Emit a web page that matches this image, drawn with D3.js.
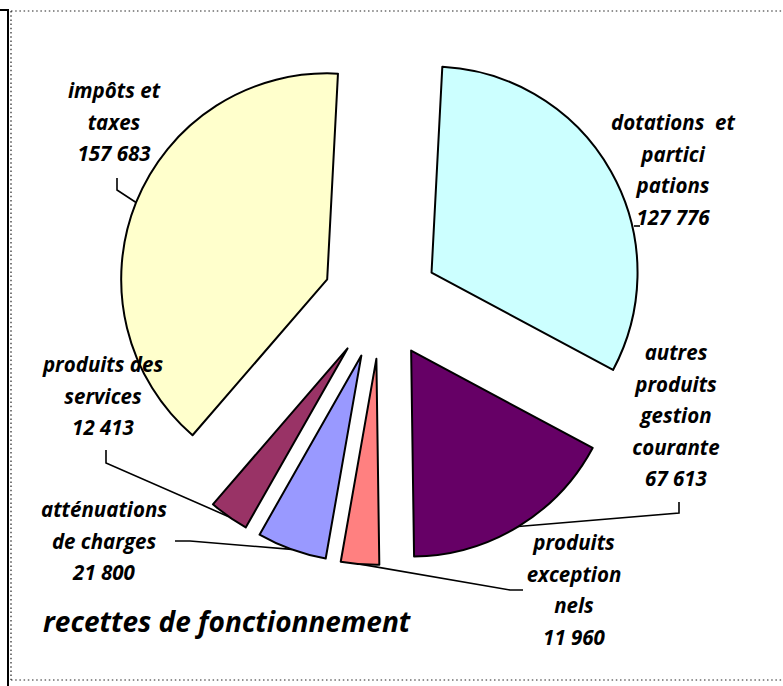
<!DOCTYPE html>
<html>
<head>
<meta charset="utf-8">
<script src="https://cdn.jsdelivr.net/npm/d3@7"></script>
<style>
  body { margin: 0; background: #fff; }
  .lbl, .title { font-family: "Open Sans", sans-serif; font-weight: 700; font-style: italic; fill: #000; }
</style>
</head>
<body>
<div id="chart"></div>
<script>
// data
const categories = ['dotations  et partici pations', 'autres produits gestion courante', 'produits exception nels',
  'atténuations de charges', 'produits des services', 'impôts et taxes'];
const values = [127776, 67613, 11960, 21800, 12413, 157683];
const colors = ['#CCFFFF', '#660066', '#FF8080', '#9999FF', '#993366', '#FFFFCC'];
// how each label is broken into lines
const labelLines = [
  ['dotations  et', 'partici', 'pations'],
  ['autres', 'produits', 'gestion', 'courante'],
  ['produits', 'exception', 'nels'],
  ['atténuations', 'de charges'],
  ['produits des', 'services'],
  ['impôts et', 'taxes']
];

const width = 783, height = 686;
const cx = 381, cy = 301, radius = 206, explode = 58;
const startDeg = 3;
const lineStep = 31.5;

// label layout: center x, first baseline, leader knee + end
const labelPos = [
  {x: 673, y: 130, leader: [[640, 226], [634, 226]], noAnchor: true},
  {x: 676, y: 360, leader: [[679, 513], [679, 502]]},
  {x: 574, y: 550, leader: [[510, 590], [523, 590]]},
  {x: 104, y: 517, leader: [[190, 541], [175, 541]]},
  {x: 103, y: 372, leader: [[106, 463], [106, 450]]},
  {x: 114, y: 98,  leader: [[117, 190], [117, 178]]}
];

const fmt = v => d3.format(',')(v).replace(/,/g, ' ');

const svg = d3.select('#chart').append('svg')
  .attr('width', width)
  .attr('height', height);

// frame
svg.append('line').attr('x1', 8).attr('x2', 8).attr('y1', 10).attr('y2', height)
  .attr('stroke', '#000').attr('stroke-width', 2);
svg.append('line').attr('x1', 0).attr('x2', 9).attr('y1', 10).attr('y2', 10)
  .attr('stroke', '#000').attr('stroke-width', 2);
const dotted = [[11, 11, width, 11], [11, 11, 11, 680], [11, 680, width, 680]];
svg.selectAll('.frame-dot').data(dotted).enter().append('line')
  .attr('class', 'frame-dot')
  .attr('x1', d => d[0]).attr('y1', d => d[1]).attr('x2', d => d[2]).attr('y2', d => d[3])
  .attr('stroke', '#222').attr('stroke-width', 1.2).attr('stroke-dasharray', '1.5,2.7');

const pie = d3.pie().sort(null)
  .startAngle(startDeg * Math.PI / 180)
  .endAngle((startDeg + 360) * Math.PI / 180);
const arcs = pie(values);

const arc = d3.arc().innerRadius(0).outerRadius(radius);

const offset = d => {
  const a = (d.startAngle + d.endAngle) / 2;
  return [cx + explode * Math.sin(a), cy - explode * Math.cos(a)];
};

// leader lines (under slices)
const g = svg.append('g');
g.selectAll('.leader').data(arcs).enter().append('polyline')
  .attr('class', 'leader')
  .attr('fill', 'none')
  .attr('stroke', '#000')
  .attr('stroke-width', 1.6)
  .attr('points', (d, i) => {
    const p = labelPos[i];
    const pts = p.leader.slice();
    if (!p.noAnchor) {
      const [ox, oy] = offset(d);
      const a = (d.startAngle + d.endAngle) / 2;
      pts.unshift([ox + radius * Math.sin(a), oy - radius * Math.cos(a)]);
    }
    return pts.map(q => q.join(',')).join(' ');
  });

g.selectAll('.slice').data(arcs).enter().append('path')
  .attr('class', 'slice')
  .attr('transform', d => `translate(${offset(d)})`)
  .attr('d', arc)
  .attr('fill', (d, i) => colors[i])
  .attr('stroke', '#000')
  .attr('stroke-width', 2)
  .attr('stroke-linejoin', 'round');

// labels
const lbl = svg.selectAll('.lbl').data(arcs).enter().append('text')
  .attr('class', 'lbl')
  .attr('text-anchor', 'middle')
  .style('font-size', '20.5px');
lbl.each(function (d, i) {
  const t = d3.select(this);
  const lines = labelLines[i].concat([fmt(values[i])]);
  lines.forEach((s, j) => {
    t.append('tspan')
      .attr('x', labelPos[i].x)
      .attr('y', labelPos[i].y + j * lineStep)
      .style('white-space', 'pre')
      .text(s);
  });
});

svg.append('text')
  .attr('class', 'title')
  .attr('x', 43)
  .attr('y', 632)
  .style('font-size', '28px')
  .text('recettes de fonctionnement');
</script>
</body>
</html>
